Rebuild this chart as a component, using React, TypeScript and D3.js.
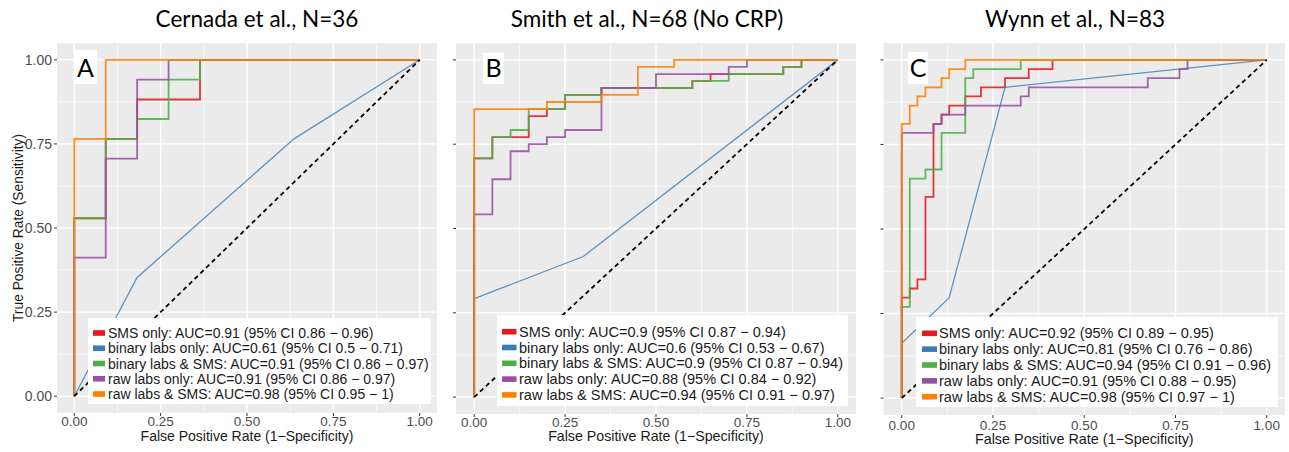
import React from "react";
import * as d3 from "d3";

type Pt = [number, number];

// ---------- shared axis / legend text ----------
const tickValues = [0, 0.25, 0.5, 0.75, 1];
const tickLabels = ["0.00", "0.25", "0.50", "0.75", "1.00"];
const minorValues = [0.125, 0.375, 0.625, 0.875];
const seriesNames = ["SMS only", "binary labs only", "binary labs & SMS", "raw labs only", "raw labs & SMS"];
const seriesColors = ["#E41A1C", "#377EB8", "#4DAF4A", "#984EA3", "#FF7F00"];
const panelTitles = ["Cernada et al., N=36", "Smith et al., N=68 (No CRP)", "Wynn et al., N=83"];
const panelLetters = ["A", "B", "C"];

// ---------- Panel A: Cernada ----------
const cernadaSMS: Pt[] = [[0, 0], [0, 0.529], [0.091, 0.529], [0.091, 0.765], [0.182, 0.765], [0.182, 0.882], [0.364, 0.882], [0.364, 1], [1, 1]];
const cernadaBinary: Pt[] = [[0, 0], [0.182, 0.353], [0.636, 0.765], [1, 1]];
const cernadaBinarySMS: Pt[] = [[0, 0], [0, 0.529], [0.091, 0.529], [0.091, 0.765], [0.182, 0.765], [0.182, 0.824], [0.273, 0.824], [0.273, 0.941], [0.364, 0.941], [0.364, 1], [1, 1]];
const cernadaRaw: Pt[] = [[0, 0], [0, 0.412], [0.091, 0.412], [0.091, 0.706], [0.182, 0.706], [0.182, 0.941], [0.273, 0.941], [0.273, 1], [1, 1]];
const cernadaRawSMS: Pt[] = [[0, 0], [0, 0.765], [0.091, 0.765], [0.091, 1], [1, 1]];
const cernadaAUC = [
  "AUC=0.91 (95% CI 0.86 \u2212 0.96)",
  "AUC=0.61 (95% CI 0.5 \u2212 0.71)",
  "AUC=0.91 (95% CI 0.86 \u2212 0.97)",
  "AUC=0.91 (95% CI 0.86 \u2212 0.97)",
  "AUC=0.98 (95% CI 0.95 \u2212 1)",
];

// ---------- Panel B: Smith ----------
const smithSMS: Pt[] = [[0, 0], [0, 0.708], [0.05, 0.708], [0.05, 0.771], [0.15, 0.771], [0.15, 0.833], [0.2, 0.833], [0.2, 0.854], [0.25, 0.854], [0.25, 0.896], [0.35, 0.896], [0.35, 0.917], [0.6, 0.917], [0.6, 0.938], [0.65, 0.938], [0.65, 0.958], [0.85, 0.958], [0.85, 0.979], [0.9, 0.979], [0.9, 1], [1, 1]];
const smithBinary: Pt[] = [[0, 0], [0, 0.292], [0.3, 0.417], [1, 1]];
const smithBinarySMS: Pt[] = [[0, 0], [0, 0.708], [0.05, 0.708], [0.05, 0.771], [0.1, 0.771], [0.1, 0.792], [0.15, 0.792], [0.15, 0.854], [0.25, 0.854], [0.25, 0.896], [0.35, 0.896], [0.35, 0.917], [0.6, 0.917], [0.6, 0.938], [0.7, 0.938], [0.7, 0.958], [0.85, 0.958], [0.85, 0.979], [0.9, 0.979], [0.9, 1], [1, 1]];
const smithRaw: Pt[] = [[0, 0], [0, 0.542], [0.05, 0.542], [0.05, 0.646], [0.1, 0.646], [0.1, 0.729], [0.15, 0.729], [0.15, 0.75], [0.2, 0.75], [0.2, 0.771], [0.25, 0.771], [0.25, 0.792], [0.35, 0.792], [0.35, 0.917], [0.5, 0.917], [0.5, 0.958], [0.7, 0.958], [0.7, 0.979], [0.75, 0.979], [0.75, 1], [1, 1]];
const smithRawSMS: Pt[] = [[0, 0], [0, 0.854], [0.2, 0.854], [0.2, 0.875], [0.35, 0.875], [0.35, 0.896], [0.45, 0.896], [0.45, 0.979], [0.55, 0.979], [0.55, 1], [1, 1]];
const smithAUC = [
  "AUC=0.9 (95% CI 0.87 \u2212 0.94)",
  "AUC=0.6 (95% CI 0.53 \u2212 0.67)",
  "AUC=0.9 (95% CI 0.87 \u2212 0.94)",
  "AUC=0.88 (95% CI 0.84 \u2212 0.92)",
  "AUC=0.94 (95% CI 0.91 \u2212 0.97)",
];

// ---------- Panel C: Wynn ----------
const wynnSMS: Pt[] = [[0, 0], [0, 0.297], [0.022, 0.297], [0.022, 0.324], [0.043, 0.324], [0.043, 0.351], [0.065, 0.351], [0.065, 0.595], [0.087, 0.595], [0.087, 0.811], [0.109, 0.811], [0.109, 0.838], [0.13, 0.838], [0.13, 0.865], [0.174, 0.865], [0.174, 0.892], [0.217, 0.892], [0.217, 0.919], [0.283, 0.919], [0.283, 0.946], [0.348, 0.946], [0.348, 0.973], [0.413, 0.973], [0.413, 1], [1, 1]];
const wynnBinary: Pt[] = [[0, 0], [0, 0.162], [0.13, 0.297], [0.283, 0.919], [1, 1]];
const wynnBinarySMS: Pt[] = [[0, 0], [0, 0.27], [0.022, 0.27], [0.022, 0.649], [0.065, 0.649], [0.065, 0.676], [0.109, 0.676], [0.109, 0.784], [0.174, 0.784], [0.174, 0.946], [0.196, 0.946], [0.196, 0.973], [0.326, 0.973], [0.326, 1], [1, 1]];
const wynnRaw: Pt[] = [[0, 0], [0, 0.784], [0.087, 0.784], [0.087, 0.811], [0.109, 0.811], [0.109, 0.838], [0.174, 0.838], [0.174, 0.865], [0.326, 0.865], [0.326, 0.892], [0.348, 0.892], [0.348, 0.919], [0.674, 0.919], [0.674, 0.946], [0.761, 0.946], [0.761, 0.973], [0.783, 0.973], [0.783, 1], [1, 1]];
const wynnRawSMS: Pt[] = [[0, 0], [0, 0.811], [0.022, 0.811], [0.022, 0.865], [0.043, 0.865], [0.043, 0.892], [0.065, 0.892], [0.065, 0.919], [0.109, 0.919], [0.109, 0.946], [0.13, 0.946], [0.13, 0.973], [0.174, 0.973], [0.174, 1], [1, 1]];
const wynnAUC = [
  "AUC=0.92 (95% CI 0.89 \u2212 0.95)",
  "AUC=0.81 (95% CI 0.76 \u2212 0.86)",
  "AUC=0.94 (95% CI 0.91 \u2212 0.96)",
  "AUC=0.91 (95% CI 0.88 \u2212 0.95)",
  "AUC=0.98 (95% CI 0.97 \u2212 1)",
];

const panelSeries = [
  [cernadaSMS, cernadaBinary, cernadaBinarySMS, cernadaRaw, cernadaRawSMS],
  [smithSMS, smithBinary, smithBinarySMS, smithRaw, smithRawSMS],
  [wynnSMS, wynnBinary, wynnBinarySMS, wynnRaw, wynnRawSMS],
];
const panelAUC = [cernadaAUC, smithAUC, wynnAUC];

// ---------- layout (pixels) ----------
const layouts = [
  { bx0: 57, bx1: 437, by0: 43, by1: 413, titleX: 257, showY: true,
    letterBox: [74, 50, 23, 34], legend: [88, 318, 343, 86], keyX: 93, keyW: 12, textX: 108, rowY: 333, rowH: 15.25, font: 14,
    tickY: 421.5, axisTitleY: 436, axisFont: 14 },
  { bx0: 456, bx1: 856, by0: 43, by1: 414, titleX: 647, showY: false,
    letterBox: [483, 53, 21, 31], legend: [497, 315, 351, 91], keyX: 502, keyW: 14.5, textX: 519, rowY: 331.7, rowH: 15.8, font: 14.5,
    tickY: 422, axisTitleY: 436, axisFont: 14.2 },
  { bx0: 883.5, bx1: 1285, by0: 43, by1: 415, titleX: 1075, showY: false,
    letterBox: [908, 52, 20, 32], legend: [916, 317, 362, 90], keyX: 922, keyW: 15, textX: 939, rowY: 333.3, rowH: 15.85, font: 14.5,
    tickY: 425, axisTitleY: 439, axisFont: 14.4 },
];

const SANS = "'Liberation Sans', Arial, sans-serif";
const TITLE_FONT = "Lato, 'Open Sans', sans-serif";

function Panel({ idx }: { idx: number }) {
  const L = layouts[idx];
  const x = d3.scaleLinear().domain([-0.05, 1.05]).range([L.bx0, L.bx1]);
  const y = d3.scaleLinear().domain([-0.05, 1.05]).range([L.by1, L.by0]);
  const line = d3.line<Pt>().x((d) => x(d[0])).y((d) => y(d[1]));
  const series = panelSeries[idx];
  const [lx, ly, lw, lh] = L.legend;
  const [bx, by, bw, bh] = L.letterBox;
  return (
    <g>
      <text x={L.titleX} y={27} textAnchor="middle" fontFamily={TITLE_FONT} fontSize={22.5} fill="#000">
        {panelTitles[idx]}
      </text>
      <rect x={L.bx0} y={L.by0} width={L.bx1 - L.bx0} height={L.by1 - L.by0} fill="#EBEBEB" />
      {minorValues.map((v) => (
        <g key={"m" + v}>
          <line x1={x(v)} x2={x(v)} y1={L.by0} y2={L.by1} stroke="#fff" strokeWidth={0.7} />
          <line x1={L.bx0} x2={L.bx1} y1={y(v)} y2={y(v)} stroke="#fff" strokeWidth={0.7} />
        </g>
      ))}
      {tickValues.map((v) => (
        <g key={"M" + v}>
          <line x1={x(v)} x2={x(v)} y1={L.by0} y2={L.by1} stroke="#fff" strokeWidth={1.4} />
          <line x1={L.bx0} x2={L.bx1} y1={y(v)} y2={y(v)} stroke="#fff" strokeWidth={1.4} />
        </g>
      ))}
      {series.map((s, i) => (
        <path key={"s" + i} d={line(s) || ""} fill="none" stroke={seriesColors[i]}
          strokeWidth={i === 1 ? 1.3 : 1.8} strokeOpacity={i === 1 ? 0.8 : 0.88} />
      ))}
      <path d={line([[0, 0], [1, 1]]) || ""} stroke="#000" strokeWidth={1.8} strokeDasharray="4.5,3.5" fill="none" />
      {/* letter box */}
      <rect x={bx} y={by} width={bw} height={bh} fill="#fff" />
      <text x={bx + bw / 2} y={by + bh * 0.78} textAnchor="middle" fontFamily={TITLE_FONT} fontSize={25} fill="#000">
        {panelLetters[idx]}
      </text>
      {/* legend */}
      <rect x={lx} y={ly} width={lw} height={lh} fill="#fff" />
      {seriesNames.map((n, i) => (
        <g key={"l" + i}>
          <rect x={L.keyX} y={L.rowY + i * L.rowH - 2.8} width={L.keyW} height={5.6} fill={seriesColors[i]} />
          <text x={L.textX} y={L.rowY + i * L.rowH} dominantBaseline="central" fontFamily={SANS} fontSize={L.font} fill="#1a1a1a">
            {n + ": " + panelAUC[idx][i]}
          </text>
        </g>
      ))}
      {/* x axis */}
      {tickValues.map((v, i) => (
        <g key={"xt" + v}>
          <line x1={x(v)} x2={x(v)} y1={L.by1} y2={L.by1 + 3} stroke="#333" strokeWidth={1} />
          <text x={x(v)} y={L.tickY} textAnchor="middle" dominantBaseline="central" fontFamily={SANS} fontSize={13.5} fill="#4D4D4D">
            {tickLabels[i]}
          </text>
        </g>
      ))}
      <text x={(L.bx0 + L.bx1) / 2} y={L.axisTitleY} textAnchor="middle" dominantBaseline="central" fontFamily={SANS} fontSize={L.axisFont} fill="#1a1a1a">
        False Positive Rate (1{"\u2212"}Specificity)
      </text>
      {/* y axis */}
      {tickValues.map((v, i) => (
        <g key={"yt" + v}>
          <line x1={L.bx0 - 3} x2={L.bx0} y1={y(v)} y2={y(v)} stroke="#333" strokeWidth={1} />
          {L.showY && (
            <text x={L.bx0 - 5} y={y(v)} textAnchor="end" dominantBaseline="central" fontFamily={SANS} fontSize={14} fill="#4D4D4D">
              {tickLabels[i]}
            </text>
          )}
        </g>
      ))}
      {L.showY && (
        <text transform={`translate(18,${(L.by0 + L.by1) / 2}) rotate(-90)`} textAnchor="middle" dominantBaseline="central"
          fontFamily={SANS} fontSize={13.8} fill="#1a1a1a">
          True Positive Rate (Sensitivity)
        </text>
      )}
    </g>
  );
}

export default function App() {
  return (
    <svg width={1289} height={452} style={{ display: "block", position: "absolute", left: 0, top: 0, background: "#fff" }}>
      <rect x={0} y={0} width={1289} height={452} fill="#fff" />
      {[0, 1, 2].map((i) => (
        <Panel key={i} idx={i} />
      ))}
    </svg>
  );
}
